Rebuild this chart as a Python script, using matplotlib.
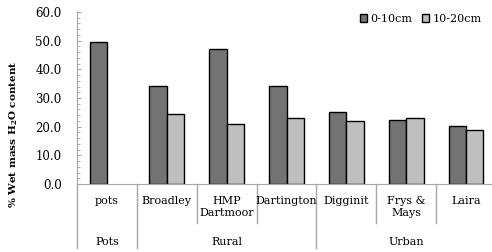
import numpy as np
import matplotlib.pyplot as plt
from matplotlib.ticker import MultipleLocator, FormatStrFormatter
import matplotlib.transforms as mtransforms

plt.rcParams['font.family'] = 'DejaVu Serif'
plt.rcParams['mathtext.fontset'] = 'dejavuserif'

sites = ['pots', 'Broadley', 'HMP\nDartmoor', 'Dartington', 'Digginit', 'Frys &\nMays', 'Laira']
groups = ['Pots', 'Rural', 'Urban']
group_span = [(0, 1), (1, 4), (4, 7)]   # site index ranges per group
top_depth = [49.7, 34.2, 47.2, 34.2, 25.2, 22.5, 20.2]
low_depth = [np.nan, 24.3, 21.1, 22.9, 22.0, 23.0, 18.9]

grey_line = '#a6a6a6'

fig = plt.figure(figsize=(4.92, 2.52), dpi=100)
ax = fig.add_axes([77/492, 1-184/252, (496-77)/492, 172/252])

x = np.arange(len(sites))
w = 0.29
ax.bar(x - w/2, top_depth, w, color='#737373', edgecolor='black', linewidth=1.0, label='0-10cm')
ax.bar(x + w/2, low_depth, w, color='#bfbfbf', edgecolor='black', linewidth=1.0, label='10-20cm')

ax.set_xlim(-0.5, len(sites) - 0.5)
ax.set_ylim(0, 60)
ax.yaxis.set_major_locator(MultipleLocator(10))
ax.yaxis.set_minor_locator(MultipleLocator(2))
ax.yaxis.set_major_formatter(FormatStrFormatter('%.1f'))
ax.tick_params(axis='y', which='major', direction='in', length=3, color=grey_line, labelsize=8.5, pad=11)
ax.tick_params(axis='y', which='minor', direction='in', length=2, color=grey_line)
ax.set_xticks([])
for s in ['top', 'right']:
    ax.spines[s].set_visible(False)
ax.spines['left'].set_color(grey_line)
ax.spines['bottom'].set_color(grey_line)

ax.set_ylabel('% Wet mass H$_\\mathbf{2}$O content', fontsize=7.5, fontweight='bold')
ax.yaxis.set_label_coords(-0.135, 0.29)

trans = mtransforms.blended_transform_factory(ax.transData, ax.transAxes)
for i, name in enumerate(sites):
    ax.text(i, -0.07, name, transform=trans, ha='center', va='top', fontsize=8, linespacing=1.3)

short = -0.227
full = -0.372
bounds = [g[0] for g in group_span] + [len(sites)]
for b in range(len(sites) + 1):
    y1 = full if b in bounds else short
    ax.plot([b - 0.5, b - 0.5], [0, y1], transform=trans, color=grey_line, lw=1, clip_on=False)
for name, (a, b) in zip(groups, group_span):
    ax.text((a + b - 1) / 2, -0.34, name, transform=trans, ha='center', va='center', fontsize=8)

ax.legend(loc='upper right', bbox_to_anchor=(0.99, 1.045), ncol=2, frameon=False, fontsize=8,
          handlelength=0.7, handleheight=0.7, handletextpad=0.3, columnspacing=0.8)

fig.savefig('out.png', dpi=100)
